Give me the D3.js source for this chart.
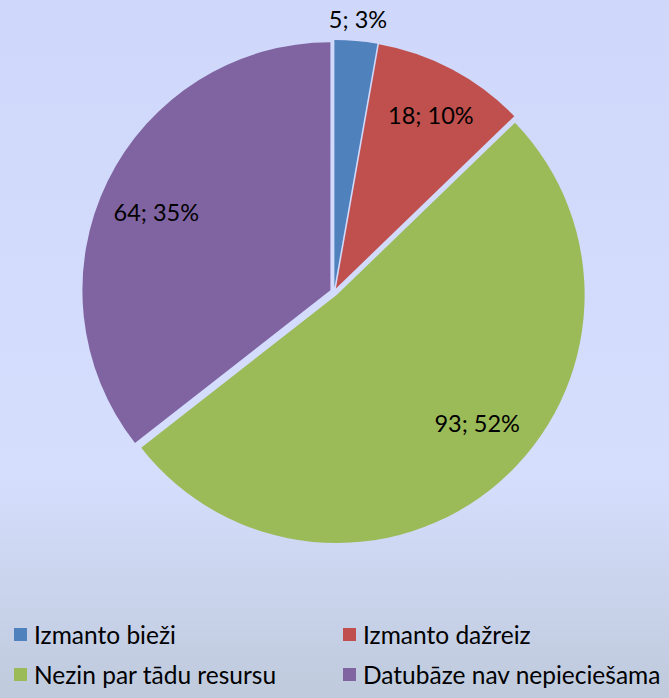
<!DOCTYPE html>
<html>
<head>
<meta charset="utf-8">
<script src="https://cdn.jsdelivr.net/npm/d3@7"></script>
<style>
  html, body { margin: 0; padding: 0; }
  body { width: 669px; height: 698px; overflow: hidden; }
  svg { display: block; font-family: Lato, "Open Sans", sans-serif; }
</style>
</head>
<body>
<svg id="chart"></svg>
<script>
// answers and counts
const categories = ["Izmanto bieži", "Izmanto dažreiz", "Nezin par tādu resursu", "Datubāze nav nepieciešama"];
const counts = [5, 18, 93, 64];
const percents = [3, 10, 52, 35];
const colors = ["#4f81bd", "#c0504d", "#9bbb59", "#8064a2"];

const width = 669,
  height = 698;

const svg = d3
  .select("#chart")
  .attr("width", width)
  .attr("height", height)
  .attr("viewBox", [0, 0, width, height]);

// background gradient
const defs = svg.append("defs");
const grad = defs
  .append("linearGradient")
  .attr("id", "bg")
  .attr("x1", 0).attr("y1", 0)
  .attr("x2", 0).attr("y2", 1);
grad.append("stop").attr("offset", 0).attr("stop-color", "#cfd8fa");
grad.append("stop").attr("offset", 0.68).attr("stop-color", "#d5defd");
grad.append("stop").attr("offset", 1).attr("stop-color", "#bfcadc");
svg.append("rect").attr("width", width).attr("height", height).attr("fill", "url(#bg)");

const cx = 334,
  cy = 292,
  radius = 248,
  explode = 4;

const pie = d3.pie().sort(null).value((d) => d);
const arcs = pie(counts);

const arc = d3.arc().innerRadius(0).outerRadius(radius);
const labelArc = d3.arc().innerRadius(radius * 0.79).outerRadius(radius * 0.79);
const outerLabelArc = d3.arc().innerRadius(radius + 23).outerRadius(radius + 23);
// small hand nudges so labels sit where excel put them
const labelNudge = [[0, 2], [3, 0], [12, -19], [2, 8]];

const g = svg.append("g").attr("transform", `translate(${cx},${cy})`);

const slices = g
  .selectAll("g.slice")
  .data(arcs)
  .join("g")
  .attr("class", "slice")
  .attr("transform", (d) => {
    const a = (d.startAngle + d.endAngle) / 2;
    return `translate(${explode * Math.sin(a)},${-explode * Math.cos(a)})`;
  });

slices
  .append("path")
  .attr("d", arc)
  .attr("fill", (d, i) => colors[i]);

slices
  .append("text")
  .attr("transform", (d, i) => {
    const p = i === 0 ? outerLabelArc.centroid(d) : labelArc.centroid(d);
    return `translate(${p[0] + labelNudge[i][0]},${p[1] + labelNudge[i][1]})`;
  })
  .attr("text-anchor", "middle")
  .attr("dy", "0.35em")
  .style("font-size", "23.5px")
  .attr("fill", "#000")
  .text((d, i) => `${counts[i]}; ${percents[i]}%`);

// legend, two columns
const legend = svg
  .append("g")
  .selectAll("g")
  .data(categories)
  .join("g")
  .attr("transform", (d, i) => `translate(${i % 2 === 0 ? 14 : 343},${i < 2 ? 628 : 668})`);

legend
  .append("rect")
  .attr("width", 13)
  .attr("height", 13)
  .attr("fill", (d, i) => colors[i]);

legend
  .append("text")
  .attr("x", 20)
  .attr("y", 7)
  .attr("dy", "0.35em")
  .style("font-size", "24.5px")
  .attr("fill", "#000")
  .text((d) => d);
</script>
</body>
</html>
